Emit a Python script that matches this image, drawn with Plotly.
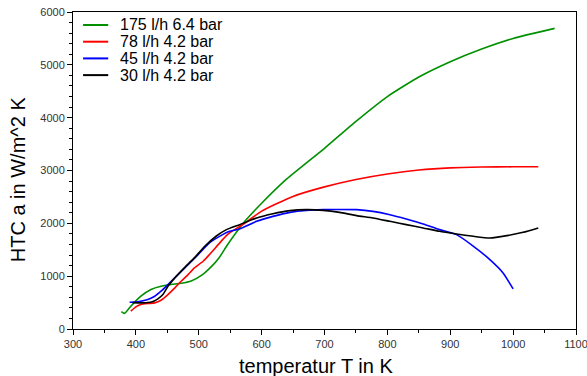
import plotly.graph_objects as go

# 175 l/h 6.4 bar
t_green = [377, 382, 392, 408, 424, 440, 456, 472, 488, 506, 520, 533, 546, 573, 600, 640, 700, 750, 800, 850, 900, 950, 1000, 1066]
h_green = [330, 295, 432, 620, 747, 809, 841, 865, 910, 1030, 1180, 1360, 1600, 2035, 2380, 2840, 3420, 3930, 4400, 4770, 5060, 5300, 5500, 5690]

# 78 l/h 4.2 bar
t_red = [392, 400, 408, 419, 430, 440, 451, 462, 472, 483, 493, 507, 517, 538, 549, 573, 600, 650, 700, 750, 800, 850, 900, 950, 1000, 1040]
h_red = [337, 419, 463, 482, 495, 545, 652, 778, 904, 1030, 1157, 1282, 1408, 1692, 1818, 2000, 2230, 2510, 2690, 2830, 2935, 3010, 3050, 3065, 3070, 3070]

# 45 l/h 4.2 bar
t_blue = [390, 403, 419, 430, 440, 451, 467, 483, 499, 517, 538, 549, 565, 592, 618, 645, 671, 698, 724, 751, 777, 804, 830, 857, 883, 910, 937, 963, 984, 1000]
h_blue = [505, 514, 558, 620, 715, 841, 1030, 1219, 1408, 1629, 1786, 1849, 1894, 2038, 2132, 2208, 2246, 2259, 2262, 2259, 2227, 2164, 2083, 1989, 1881, 1786, 1565, 1314, 1062, 760]

# 30 l/h 4.2 bar
t_black = [395, 410, 425, 435, 443, 451, 462, 477, 493, 510, 528, 544, 565, 592, 618, 645, 671, 698, 724, 751, 777, 804, 830, 857, 883, 910, 937, 963, 990, 1016, 1040]
h_black = [500, 495, 510, 571, 652, 809, 968, 1157, 1346, 1570, 1760, 1881, 1975, 2102, 2183, 2240, 2259, 2246, 2208, 2146, 2102, 2038, 1975, 1913, 1849, 1799, 1754, 1723, 1767, 1830, 1913]

series = [
    ("175 l/h 6.4 bar", t_green, h_green, "#009000"),
    ("78 l/h 4.2 bar", t_red, h_red, "#ff0000"),
    ("45 l/h 4.2 bar", t_blue, h_blue, "#0000ff"),
    ("30 l/h 4.2 bar", t_black, h_black, "#000000"),
]

x_ticks = [300, 400, 500, 600, 700, 800, 900, 1000, 1100]
y_ticks = [0, 1000, 2000, 3000, 4000, 5000, 6000]
x_title = "temperatur T in K"
y_title = "HTC a in W/m^2 K"

fig = go.Figure()
for name, t, h, c in series:
    fig.add_trace(go.Scatter(x=t, y=h, name=name, mode="lines", showlegend=False,
                             line=dict(color=c, width=1.6, shape="spline", smoothing=0.5)))

# legend drawn as paper-positioned keys
leg_top = 0.959
leg_step = 0.0527
for i, (name, t, h, c) in enumerate(series):
    yy = leg_top - i * leg_step
    fig.add_shape(type="line", xref="paper", yref="paper", x0=0.02, x1=0.07, y0=yy, y1=yy,
                  line=dict(color=c, width=2))
    fig.add_annotation(xref="paper", yref="paper", x=0.09, y=yy, text=name, showarrow=False,
                       xanchor="left", yanchor="middle", font=dict(size=16, color="#000"))

# axis titles
fig.add_annotation(xref="paper", yref="paper", x=0.483, y=-0.117, text=x_title, showarrow=False,
                   xanchor="center", yanchor="middle", font=dict(size=20, color="#000"))
fig.add_annotation(xref="paper", yref="paper", x=-0.109, y=0.473, text=y_title, showarrow=False,
                   textangle=-90, xanchor="center", yanchor="middle", font=dict(size=20, color="#000"))

fig.update_layout(
    width=587, height=376,
    margin=dict(l=73, r=11, t=12, b=47),
    paper_bgcolor="white", plot_bgcolor="white",
    font=dict(family="Liberation Sans, Arial, sans-serif", color="#000"),
    showlegend=False,
)
fig.update_xaxes(
    range=[300, 1100], tickvals=x_ticks, ticktext=[str(v) for v in x_ticks],
    showgrid=False, zeroline=False, showline=True, linecolor="black", linewidth=1,
    mirror=True, ticks="outside", ticklen=5, tickcolor="black", automargin=False,
    tickfont=dict(size=11, color="#333"), ticklabeloverflow="allow",
    minor=dict(dtick=50, ticks="outside", ticklen=3, tickcolor="black"),
)
fig.update_yaxes(
    range=[0, 6000], tickvals=y_ticks, ticktext=[str(v) for v in y_ticks],
    showgrid=False, zeroline=False, showline=True, linecolor="black", linewidth=1,
    mirror=True, ticks="outside", ticklen=5, tickcolor="black", automargin=False,
    tickfont=dict(size=11, color="#333"), ticklabeloverflow="allow",
    minor=dict(dtick=200, ticks="outside", ticklen=3, tickcolor="black"),
)

fig.write_html("out.html", config={"displayModeBar": False},
               post_script="document.body.style.margin='0';document.body.style.overflow='hidden';")
